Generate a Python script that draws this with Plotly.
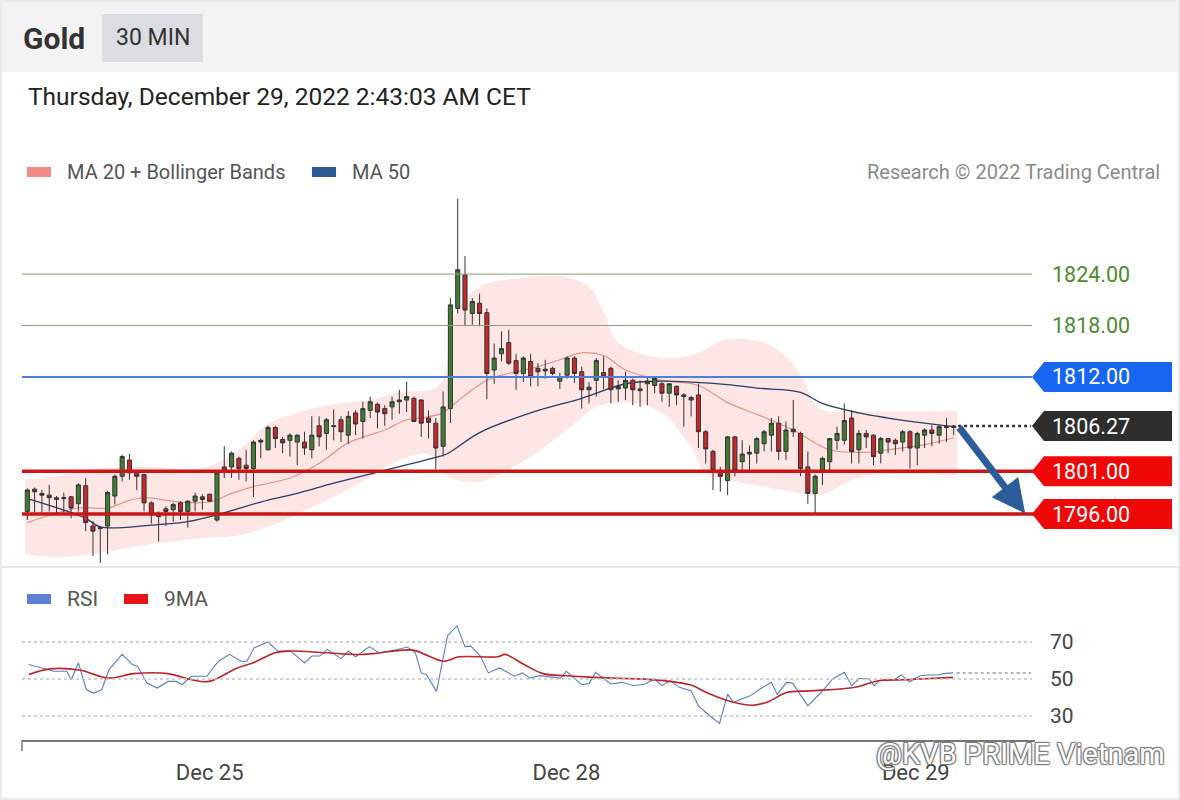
import plotly.graph_objects as go

# ---------------- data ----------------
bar_index = list(range(128))
opens = [1796.3,1798.9,1798.4,1798.2,1797.9,1797.8,1798.0,1797.2,1799.3,1794.6,
         1794.3,1794.6,1798.1,1800.4,1802.3,1800.9,1800.6,1797.3,1796.1,1796.6,
         1796.5,1797.3,1796.3,1797.5,1798.0,1798.3,1795.3,1801.5,1801.5,1802.5,
         1801.7,1801.3,1804.4,1803.5,1806.1,1804.7,1804.6,1804.4,1804.4,1803.5,
         1806.3,1805.4,1806.2,1807.0,1805.2,1807.8,1806.8,1808.1,1808.8,1808.3,
         1808.5,1809.1,1809.3,1809.5,1809.3,1807.2,1806.6,1803.9,1808.3,1820.0,
         1823.9,1819.4,1820.6,1819.5,1812.8,1814.7,1816.0,1813.9,1812.4,1813.8,
         1813.0,1812.9,1813.0,1811.5,1812.2,1814.2,1812.6,1810.8,1811.6,1812.5,
         1813.0,1810.6,1810.7,1811.6,1810.6,1811.2,1811.0,1811.2,1810.1,1810.9,
         1809.9,1809.6,1809.9,1805.6,1803.3,1801.1,1799.9,1805.0,1802.1,1803.0,
         1803.1,1804.2,1805.2,1806.6,1803.3,1805.9,1805.4,1801.5,1798.4,1801.0,
         1802.1,1804.6,1804.6,1807.2,1803.5,1805.4,1805.2,1803.1,1804.8,1804.6,
         1804.4,1805.6,1803.7,1805.2,1805.8,1805.2,1806.2,1806.1]
highs = [1799.0,1799.1,1798.8,1799.4,1798.1,1798.5,1798.1,1799.6,1800.2,1795.2,
         1794.6,1798.7,1800.6,1802.9,1803.0,1801.0,1800.7,1797.5,1796.3,1796.9,
         1797.3,1797.5,1797.6,1798.5,1798.3,1798.4,1801.0,1803.9,1803.3,1802.7,
         1803.5,1804.6,1804.8,1806.3,1806.3,1805.0,1805.4,1805.3,1805.6,1807.4,
         1807.4,1807.2,1808.2,1807.4,1808.0,1808.1,1809.1,1809.7,1809.0,1808.7,
         1809.7,1810.5,1811.4,1809.7,1809.4,1808.1,1807.2,1810.3,1821.2,1832.8,
         1826.1,1821.2,1821.7,1820.0,1815.9,1817.3,1817.5,1814.7,1814.4,1814.7,
         1813.6,1814.0,1813.2,1812.5,1814.4,1814.4,1813.2,1811.4,1814.2,1814.4,
         1813.2,1811.6,1812.6,1811.8,1811.6,1812.0,1812.0,1811.4,1811.2,1811.0,
         1810.1,1809.8,1811.2,1805.8,1803.5,1801.5,1805.1,1805.1,1804.6,1804.0,
         1805.0,1805.8,1807.2,1807.4,1806.8,1809.3,1805.6,1803.3,1800.6,1802.7,
         1804.8,1806.2,1808.9,1808.1,1805.8,1805.8,1805.3,1805.0,1804.8,1804.8,
         1805.8,1805.8,1805.6,1806.0,1806.4,1806.4,1807.2,1806.4]
lows = [1795.3,1796.2,1796.2,1796.3,1796.1,1796.2,1795.5,1796.3,1794.0,1791.1,
        1790.3,1791.3,1797.1,1799.8,1800.0,1798.8,1796.3,1794.9,1792.8,1794.6,
        1795.1,1795.3,1794.4,1796.3,1796.5,1797.4,1795.1,1800.2,1800.2,1800.0,
        1799.8,1798.0,1802.5,1803.4,1803.7,1803.1,1802.7,1801.7,1802.9,1802.5,
        1803.9,1803.5,1804.6,1804.4,1804.2,1805.2,1804.8,1807.2,1806.0,1806.3,
        1807.0,1807.7,1807.9,1806.8,1805.0,1804.8,1801.2,1802.7,1806.6,1819.4,
        1817.9,1818.1,1817.9,1809.4,1811.2,1813.8,1813.4,1810.5,1811.4,1810.9,
        1810.9,1811.8,1812.2,1810.6,1811.8,1811.3,1808.3,1808.9,1809.7,1810.6,
        1808.9,1809.1,1809.3,1808.7,1808.5,1808.7,1810.1,1809.1,1808.5,1808.7,
        1806.2,1807.4,1803.7,1801.9,1798.8,1798.6,1798.2,1800.4,1801.1,1801.1,
        1801.9,1803.3,1803.3,1802.3,1802.3,1805.0,1800.4,1797.2,1796.1,1799.4,
        1800.9,1803.5,1804.1,1801.9,1801.9,1803.7,1801.7,1801.9,1803.1,1802.9,
        1803.3,1801.3,1801.7,1803.7,1803.9,1804.2,1804.4,1805.2]
closes = [1798.8,1798.6,1798.2,1797.9,1797.7,1797.9,1796.7,1799.4,1795.0,1794.0,
          1794.4,1798.5,1800.4,1802.7,1800.8,1800.4,1797.3,1795.9,1795.7,1796.3,
          1797.1,1796.3,1797.5,1798.1,1797.7,1797.5,1800.8,1801.1,1803.1,1801.3,
          1801.3,1804.4,1804.6,1806.1,1804.8,1804.3,1805.2,1805.2,1803.7,1805.2,
          1805.0,1807.0,1806.3,1805.6,1807.4,1806.5,1808.3,1809.1,1807.9,1807.7,
          1809.1,1809.3,1809.7,1806.8,1806.6,1806.7,1803.7,1808.5,1820.4,1824.5,
          1819.8,1820.8,1819.4,1812.4,1814.2,1815.3,1813.6,1812.4,1814.2,1812.0,
          1812.6,1812.7,1812.4,1812.0,1814.2,1812.4,1810.5,1810.5,1813.9,1812.0,
          1810.5,1810.9,1811.6,1810.5,1810.4,1811.5,1811.8,1810.1,1811.2,1809.9,
          1809.7,1809.3,1805.6,1803.6,1801.1,1800.4,1805.0,1801.1,1803.0,1803.2,
          1804.8,1805.6,1806.6,1803.3,1805.8,1805.6,1801.3,1798.4,1800.4,1802.5,
          1804.8,1805.4,1806.9,1803.3,1805.4,1805.0,1802.7,1804.8,1804.4,1804.2,
          1805.6,1803.7,1805.4,1805.8,1805.4,1806.2,1806.1,1806.27]

ma20_x = [0, 7, 11, 14, 16, 21, 25, 28, 31, 36, 40, 44, 49, 52, 54, 57, 58, 63, 66, 70,
          73, 76, 79, 82, 87, 92, 96, 101, 105, 110, 115, 118, 123, 127]
ma20_y = [1795.0, 1796.7, 1796.7, 1797.6, 1797.9, 1797.4, 1797.4, 1798.4, 1799.2, 1800.2,
          1801.9, 1804.3, 1805.8, 1807.0, 1807.2, 1807.8, 1808.5, 1811.6, 1812.4, 1813.2,
          1814.0, 1814.8, 1814.5, 1812.8, 1811.6, 1811.0, 1809.0, 1807.3, 1805.8, 1803.5,
          1803.2, 1803.5, 1804.1, 1804.9]

ma50_x = [0, 4.5, 8, 10, 17, 22, 26, 32, 37, 42, 49, 56, 57.5, 62, 69, 76, 82, 87, 91,
          96, 100, 106, 109, 114, 118, 123, 127]
ma50_y = [1797.8, 1796.6, 1795.5, 1794.5, 1794.7, 1795.1, 1795.9, 1797.4, 1798.4, 1799.6,
          1801.1, 1802.6, 1803.0, 1805.5, 1807.8, 1809.5, 1811.2, 1811.5, 1811.4, 1811.1,
          1810.7, 1810.2, 1808.9, 1807.8, 1807.2, 1806.6, 1806.2]

bb_upper_x = [-0.3, 4.5, 10, 17, 24, 29, 33, 37, 42, 47, 51, 56.5, 58.5, 62, 67.5, 73.5,
              77, 79, 81, 87, 92, 95.5, 101, 104.5, 106.5, 108.5, 114, 127.5]
bb_upper_y = [1800.0, 1800.5, 1801.3, 1801.5, 1801.3, 1803.5, 1806.5, 1807.8, 1808.8,
              1809.3, 1810.2, 1811.0, 1819.0, 1822.5, 1823.5, 1823.7, 1822.5, 1819.5,
              1816.0, 1814.2, 1814.8, 1816.3, 1816.0, 1814.0, 1811.5, 1808.3, 1808.0, 1808.0]
bb_lower_x = [-0.3, 4.5, 10, 17, 24, 29, 33, 37, 42, 47, 51, 55, 57.5, 62, 69, 74.5, 78,
              82.5, 87, 91, 93, 96, 101, 105.5, 109, 114, 127.5]
bb_lower_y = [1791.3, 1791.0, 1791.5, 1792.5, 1793.2, 1793.5, 1794.5, 1796.0, 1798.0,
              1800.3, 1802.3, 1803.0, 1800.5, 1799.8, 1802.7, 1806.2, 1808.5, 1809.0,
              1807.8, 1803.8, 1800.8, 1800.0, 1799.2, 1798.5, 1798.3, 1800.3, 1800.5]

rsi_x = [0.2, 2, 3.6, 5.4, 6, 7, 8.1, 9.1, 10.2, 11.2, 13, 14.4, 15.1, 16.4, 17.8, 19.3,
         20.4, 21.2, 22.5, 24.6, 26.2, 27.7, 29.3, 30.1, 31.1, 33, 34.3, 36.1, 38, 39,
         40.1, 41.1, 43, 44, 45, 46.9, 48.2, 50.3, 52.1, 53.2, 54, 54.7, 56.1, 57.6, 58.9,
         60, 60.8, 62.1, 63.2, 64.7, 66.8, 67.9, 68.9, 70.2, 71.8, 73.1, 73.9, 76, 77,
         77.9, 80, 81.5, 83.1, 84.7, 86, 87, 88.1, 89.4, 91, 92, 93.6, 94.9, 96, 96.8,
         97.8, 99.1, 100.4, 102, 102.8, 104.1, 104.9, 107, 108.8, 110.4, 112, 113, 114.1,
         115.4, 116.1, 116.9, 118.8, 119.8, 120.9, 122.4, 123.5, 124.8, 125.6, 126.9]
rsi_y = [57.8, 56, 54.2, 54.2, 49.6, 58.7, 44.2, 42.4, 44.2, 55.1, 63.3, 57.8, 56.9, 47.8,
         45.1, 48.7, 48.7, 46.9, 51.5, 51.5, 59.6, 63.3, 59.6, 59.6, 66.9, 70, 65.1, 65.1,
         58.7, 62.4, 62.4, 66, 61, 65.1, 62, 67.5, 64.2, 65.5, 67.3, 64.2, 53.3, 52.4, 43.3,
         73.3, 78.7, 67.5, 67.8, 62.4, 53.3, 56, 51.5, 53.3, 50.5, 51.8, 51.1, 50.5, 54.2,
         46.9, 47.5, 53.6, 47.3, 48.2, 46.4, 47.3, 50, 46.4, 49.1, 45.5, 43.6, 35.5, 30, 26,
         41.8, 37.3, 39.1, 40.9, 44.5, 48.2, 41.8, 48.2, 47.8, 35.5, 42.7, 50, 53.6, 46.4,
         50.4, 50, 46.4, 49.5, 49.5, 52.2, 48.5, 51.8, 52.2, 52.2, 52.9, 53.3]

rsi_ma_x = [0.2, 3.1, 7.3, 11, 14.6, 19.3, 22.5, 24.9, 28.8, 30.9, 34, 36.1, 40.9, 46.1,
            52.9, 55, 57.1, 59.2, 64.5, 65.5, 68.1, 70.7, 73.9, 77, 81, 86.2, 91, 93.1,
            95.7, 99.4, 101.5, 104.1, 107.2, 113.5, 116.7, 120.3, 126.9]
rsi_ma_y = [52.4, 55.5, 54.7, 50.5, 52.9, 52.9, 49.6, 48.7, 56, 58.7, 64.2, 65.1, 64.2, 63.3,
            65.6, 62.4, 59.6, 62, 62, 63.3, 57.8, 52.9, 51.8, 51.0, 50.4, 49.5, 46.7, 42.7,
            38.7, 35.8, 37.6, 42.7, 43.6, 45.5, 49.1, 49.6, 50.9]

resistance_levels = [1824.0, 1818.0]
pivot_level = 1812.0
last_price = 1806.27
support_levels = [1801.0, 1796.0]
rsi_levels = [70, 50, 30]
x_tick_vals = [25, 73.9, 121.8]
x_tick_text = ["Dec 25", "Dec 28", "Dec 29"]

# ---------------- helpers for page placement ----------------
W, H = 1180, 800
def px(p):
    return p / W
def py(p):
    return 1 - p / H

FONT = "Roboto, Arial, sans-serif"
X_RANGE = [-0.73, 138.14]
PRICE_RANGE = [1790.05, 1833.81]
RSI_RANGE = [17.03, 87.3]
PLOT_X0, PLOT_X1 = px(22), px(1035)

fig = go.Figure()

# Bollinger band (base subplot, drawn underneath)
fig.add_trace(go.Scatter(x=bb_upper_x, y=bb_upper_y, mode="lines", line=dict(width=0, shape="spline", smoothing=1.0),
                         hoverinfo="skip", showlegend=False, xaxis="x", yaxis="y"))
fig.add_trace(go.Scatter(x=bb_lower_x, y=bb_lower_y, mode="lines", line=dict(width=0, shape="spline", smoothing=1.0),
                         fill="tonexty", fillcolor="rgba(251,214,212,0.62)",
                         hoverinfo="skip", showlegend=False, xaxis="x", yaxis="y"))
# MA 20
fig.add_trace(go.Scatter(x=ma20_x, y=ma20_y, mode="lines", line=dict(color="#e3958d", width=1.2, shape="spline"),
                         hoverinfo="skip", showlegend=False, xaxis="x", yaxis="y"))
# MA 50
fig.add_trace(go.Scatter(x=ma50_x, y=ma50_y, mode="lines", line=dict(color="#2c3d66", width=1.3, shape="spline"),
                         hoverinfo="skip", showlegend=False, xaxis="x", yaxis="y"))
# candles on an overlaid subplot so they sit above the band
fig.add_trace(go.Candlestick(
    x=bar_index, open=opens, high=highs, low=lows, close=closes,
    increasing=dict(line=dict(color="#333333", width=1), fillcolor="#3f7d34"),
    decreasing=dict(line=dict(color="#333333", width=1), fillcolor="#c4282b"),
    whiskerwidth=0, hoverinfo="skip", showlegend=False, xaxis="x3", yaxis="y3"))

# RSI + 9MA
fig.add_trace(go.Scatter(x=rsi_x, y=rsi_y, mode="lines", line=dict(color="#5a7fc0", width=1.1),
                         hoverinfo="skip", showlegend=False, xaxis="x2", yaxis="y2"))
fig.add_trace(go.Scatter(x=rsi_ma_x, y=rsi_ma_y, mode="lines", line=dict(color="#b8262a", width=1.6, shape="spline"),
                         hoverinfo="skip", showlegend=False, xaxis="x2", yaxis="y2"))

shapes = []
annotations = []

# page decorations
shapes.append(dict(type="rect", xref="paper", yref="paper", x0=0, x1=1, y0=py(72), y1=1,
                   fillcolor="#f3f3f3", line=dict(width=0), layer="below"))
shapes.append(dict(type="rect", xref="paper", yref="paper", x0=px(102), x1=px(203), y0=py(62), y1=py(14),
                   fillcolor="#dcdde3", line=dict(width=0), layer="below"))
shapes.append(dict(type="line", xref="paper", yref="paper", x0=0, x1=1, y0=py(567), y1=py(567),
                   line=dict(color="#e8e8e8", width=2), layer="below"))
shapes.append(dict(type="rect", xref="paper", yref="paper", x0=0, x1=1, y0=0, y1=1,
                   fillcolor="rgba(0,0,0,0)", line=dict(color="#ebebeb", width=4), layer="below"))

# resistance lines
for lv in resistance_levels:
    shapes.append(dict(type="line", xref="paper", yref="y", x0=PLOT_X0, x1=px(1032), y0=lv, y1=lv,
                       line=dict(color="#8f9c7a", width=1)))
    annotations.append(dict(xref="paper", yref="y", x=px(1050), y=lv, xanchor="left", yanchor="middle",
                            text=f"{lv:.2f}", showarrow=False,
                            font=dict(family=FONT, size=21.5, color="#4f8a2f")))

# tagged level boxes
def tag(level, color):
    h = 1.75
    path = (f"M {px(1032)},{level} L {px(1044)},{level + h} L {px(1172)},{level + h} "
            f"L {px(1172)},{level - h} L {px(1044)},{level - h} Z")
    shapes.append(dict(type="path", xref="paper", yref="y", path=path, fillcolor=color,
                       line=dict(width=0)))
    annotations.append(dict(xref="paper", yref="y", x=px(1050), y=level, xanchor="left", yanchor="middle",
                            text=f"{level:.2f}", showarrow=False,
                            font=dict(family=FONT, size=21.5, color="#ffffff")))

shapes.append(dict(type="line", xref="paper", yref="y", x0=PLOT_X0, x1=px(1032), y0=pivot_level, y1=pivot_level,
                   line=dict(color="#4d7fdf", width=2)))
tag(pivot_level, "#1766f2")

for lv in support_levels:
    shapes.append(dict(type="line", xref="paper", yref="y", x0=PLOT_X0, x1=px(1034), y0=lv, y1=lv,
                       line=dict(color="#c91616", width=3.5)))
    tag(lv, "#f00808")

# last price dotted line and tag
shapes.append(dict(type="line", xref="x", yref="y", x0=bar_index[-1] + 0.6, x1=137.6, y0=last_price, y1=last_price,
                   line=dict(color="#333333", width=2.5, dash="dot")))
tag(last_price, "#2e2e2e")

# forecast arrow
annotations.append(dict(xref="x", yref="y", axref="x", ayref="y",
                        x=136.8, y=support_levels[1] + 0.05, ax=bar_index[-1] + 0.6, ay=last_price,
                        showarrow=True, arrowhead=2, arrowsize=0.95, arrowwidth=7, arrowcolor="#2b5c9b",
                        text=""))

# RSI guide lines
for lv in rsi_levels:
    shapes.append(dict(type="line", xref="paper", yref="y2", x0=PLOT_X0, x1=px(1032), y0=lv, y1=lv,
                       line=dict(color="#c4c4c4", width=1.3, dash="dot")))
    annotations.append(dict(xref="paper", yref="y2", x=px(1062), y=lv, xanchor="center", yanchor="middle",
                            text=str(lv), showarrow=False, font=dict(family=FONT, size=21, color="#444444")))
shapes.append(dict(type="line", xref="x2", yref="y2", x0=rsi_x[-1] + 0.5, x1=137.6, y0=rsi_y[-1], y1=rsi_y[-1],
                   line=dict(color="#9a9a9a", width=1.5, dash="dot")))
# small tick at the left end of the time axis
shapes.append(dict(type="line", xref="paper", yref="paper", x0=PLOT_X0, x1=PLOT_X0, y0=py(740), y1=py(751),
                   line=dict(color="#777777", width=1.5)))

# header texts
annotations.append(dict(xref="paper", yref="paper", x=px(21), y=py(39), xanchor="left", yanchor="middle",
                        text="<b>Gold</b>", showarrow=False, font=dict(family=FONT, size=30, color="#333333")))
annotations.append(dict(xref="paper", yref="paper", x=px(152.5), y=py(38), xanchor="center", yanchor="middle",
                        text="30 MIN", showarrow=False, font=dict(family=FONT, size=23, color="#333333")))
annotations.append(dict(xref="paper", yref="paper", x=px(26), y=py(97), xanchor="left", yanchor="middle",
                        text="Thursday, December 29, 2022 2:43:03 AM CET", showarrow=False,
                        font=dict(family=FONT, size=24.5, color="#222222")))

# legends
def legend_item(x_rect, y_mid, color, label, size):
    shapes.append(dict(type="rect", xref="paper", yref="paper", x0=px(x_rect), x1=px(x_rect + 24),
                       y0=py(y_mid + 5), y1=py(y_mid - 5), fillcolor=color, line=dict(width=0)))
    annotations.append(dict(xref="paper", yref="paper", x=px(x_rect + 38), y=py(y_mid), xanchor="left",
                            yanchor="middle", text=label, showarrow=False,
                            font=dict(family=FONT, size=size, color="#555555")))

legend_item(27, 172, "#f08a86", "MA 20 + Bollinger Bands", 20)
legend_item(312, 172, "#2e5a94", "MA 50", 20)
legend_item(27, 599, "#5b82d6", "RSI", 21)
legend_item(124, 599, "#e8141b", "9MA", 21)
annotations.append(dict(xref="paper", yref="paper", x=px(1162), y=py(172), xanchor="right", yanchor="middle",
                        text="Research © 2022 Trading Central", showarrow=False,
                        font=dict(family=FONT, size=20, color="#8a8a8a")))

# watermark
annotations.append(dict(xref="paper", yref="paper", x=px(1167), y=py(754), xanchor="right", yanchor="middle",
                        text="@KVB PRIME Vietnam", showarrow=False,
                        font=dict(family=FONT, size=29, color="#ffffff",
                                  shadow="1px 1px 1px #777, -1px -1px 1px #777, 1px -1px 1px #777, -1px 1px 1px #777")))

fig.update_layout(
    width=W, height=H,
    margin=dict(l=0, r=0, t=0, b=0),
    paper_bgcolor="#ffffff", plot_bgcolor="rgba(0,0,0,0)",
    showlegend=False, hovermode=False,
    boxgap=0.2,
    xaxis=dict(domain=[PLOT_X0, PLOT_X1], range=X_RANGE, visible=False, fixedrange=True,
               rangeslider=dict(visible=False), anchor="y"),
    yaxis=dict(domain=[py(565), py(190)], range=PRICE_RANGE, visible=False, fixedrange=True, anchor="x"),
    xaxis3=dict(overlaying="x", range=X_RANGE, visible=False, fixedrange=True,
                rangeslider=dict(visible=False), anchor="y3"),
    yaxis3=dict(overlaying="y", range=PRICE_RANGE, visible=False, fixedrange=True, anchor="x3"),
    xaxis2=dict(domain=[PLOT_X0, PLOT_X1], range=X_RANGE, anchor="y2", showgrid=False, zeroline=False,
                showline=True, linecolor="#777777", linewidth=1.5, ticks="",
                tickvals=x_tick_vals, ticktext=x_tick_text, ticklabelstandoff=12,
                tickfont=dict(family=FONT, size=22, color="#444444"), fixedrange=True),
    yaxis2=dict(domain=[py(740), py(610)], range=RSI_RANGE, visible=False, fixedrange=True, anchor="x2"),
    shapes=shapes, annotations=annotations,
)

fig.write_html("out.html", config={"displayModeBar": False},
               post_script="document.body.style.margin='0';")
